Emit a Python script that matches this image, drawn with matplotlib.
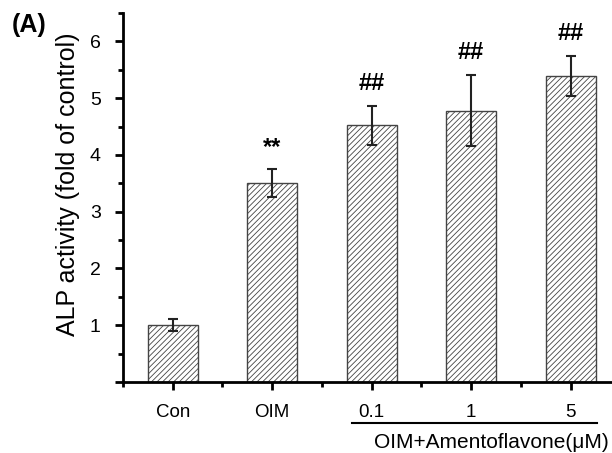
import matplotlib
matplotlib.use('Agg')
from matplotlib import pyplot as plt
from matplotlib.ticker import MultipleLocator, FixedLocator

plt.rcParams['font.family'] = ['Liberation Sans', 'DejaVu Sans']
plt.rcParams['hatch.linewidth'] = 0.6
plt.rcParams['hatch.color'] = '#333333'

groups = ['Con', 'OIM', '0.1', '1', '5']
alp = [1.00, 3.50, 4.52, 4.78, 5.39]
err = [0.11, 0.245, 0.34, 0.63, 0.35]
marks = ['', '**', '##', '##', '##']

fig = plt.figure(figsize=(6.12, 4.53), dpi=100)
ax = fig.add_axes([123/612, 1-382/453, 1-123/612, (382-13)/453])

x = list(range(len(groups)))
ax.bar(x, alp, width=0.5, color='white', edgecolor='#444444', linewidth=1.0, hatch='//////')
ax.errorbar(x, alp, yerr=err, fmt='none', ecolor='#222222', elinewidth=1.5, capsize=3.5, capthick=1.5)

for xi, v, e, m in zip(x, alp, err, marks):
    if m:
        ax.annotate(m, (xi, v + e), xytext=(0, 16), textcoords='offset points',
                    ha='center', va='center', fontsize=17, fontweight='bold')

ax.set_xlim(-0.5, 4.415)
ax.set_ylim(0, 6.5)
ax.set_xticks(x)
ax.set_xticklabels(groups, fontsize=13.5)
ax.xaxis.set_minor_locator(FixedLocator([-0.5, 0.5, 1.5, 2.5, 3.5]))
ax.set_yticks([0, 1, 2, 3, 4, 5, 6])
ax.set_yticklabels(['', '1', '2', '3', '4', '5', '6'], fontsize=14)
ax.yaxis.set_minor_locator(MultipleLocator(0.5))
ax.tick_params(axis='both', which='major', direction='out', length=6, width=2, pad=10)
ax.tick_params(axis='both', which='minor', direction='out', length=3.5, width=2)
ax.tick_params(axis='x', which='major', pad=10)
ax.spines['top'].set_visible(False)
ax.spines['right'].set_visible(False)
ax.spines['left'].set_linewidth(2)
ax.spines['bottom'].set_linewidth(2)
ax.set_ylabel('ALP activity (fold of control)', fontsize=18)
ax.yaxis.set_label_coords(-0.088, 0.537)

fig.text(12/612, 1-25/453, '(A)', fontsize=18, fontweight='bold', va='center', ha='left')
fig.add_artist(plt.Line2D([352/612, 597/612], [1-423/453, 1-423/453], color='black', linewidth=1.5))
fig.text(491/612, 1-443/453, 'OIM+Amentoflavone(μM)', fontsize=15, ha='center', va='center')

plt.savefig('out.png', dpi=100)
